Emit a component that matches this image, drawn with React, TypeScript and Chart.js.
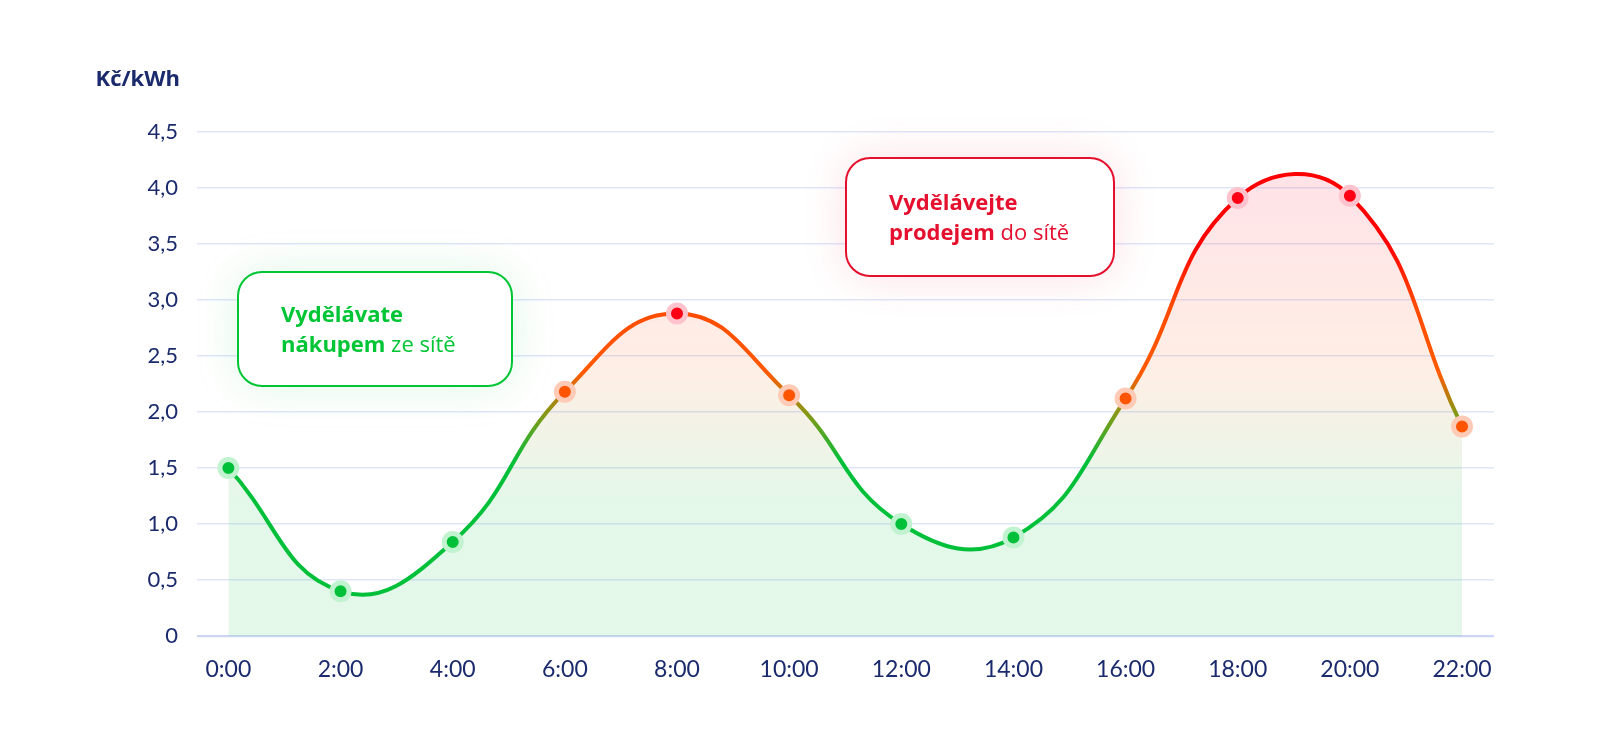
import { useEffect, useRef } from "react";
import { Chart, registerables } from "chart.js";

Chart.register(...registerables);

const hourLabels = [
  "0:00",
  "2:00",
  "4:00",
  "6:00",
  "8:00",
  "10:00",
  "12:00",
  "14:00",
  "16:00",
  "18:00",
  "20:00",
  "22:00",
];
const hours = [0, 2, 4, 6, 8, 10, 12, 14, 16, 18, 20, 22];
const prices = [1.5, 0.4, 0.84, 2.18, 2.88, 2.15, 1.0, 0.88, 2.12, 3.91, 3.93, 1.87];
const yTickValues = [0, 0.5, 1, 1.5, 2, 2.5, 3, 3.5, 4, 4.5];
const yTickLabels = ["0", "0,5", "1,0", "1,5", "2,0", "2,5", "3,0", "3,5", "4,0", "4,5"];

const NAVY = "#1a2a6c";
const GREEN = "#00c535";
const RED = "#e5102e";
const FONT = "Lato, 'Open Sans', sans-serif";
const BOX_FONT = "'Open Sans', Lato, sans-serif";

const lineStops: [number, string][] = [
  [0, "#00c03a"],
  [1.55, "#00c03a"],
  [2.0, "#8a9614"],
  [2.35, "#ff5a00"],
  [2.95, "#ff4a00"],
  [3.5, "#ff0000"],
  [4.5, "#ff0000"],
];
const fillStops: [number, string][] = [
  [0, "rgba(0,192,58,0.11)"],
  [1.2, "rgba(0,192,58,0.11)"],
  [2.4, "rgba(255,90,0,0.1)"],
  [4.0, "rgba(255,0,40,0.11)"],
  [4.5, "rgba(255,0,40,0.11)"],
];

function makeGradient(chart: Chart, stops: [number, string][]) {
  const { ctx, chartArea, scales } = chart;
  if (!chartArea) return undefined;
  const y0 = scales.y.getPixelForValue(0);
  const y1 = scales.y.getPixelForValue(4.5);
  const g = ctx.createLinearGradient(0, y0, 0, y1);
  stops.forEach(([v, c]) => g.addColorStop(v / 4.5, c));
  return g;
}

const pointFill = (v: number) => (v < 1.6 ? "#00c03a" : v < 2.5 ? "#ff5500" : "#ff0015");
const pointHalo = (v: number) => (v < 1.6 ? "#c2f3d0" : v < 2.5 ? "#ffcab6" : "#ffc3cd");

export default function App() {
  const canvasRef = useRef<HTMLCanvasElement>(null);

  useEffect(() => {
    if (!canvasRef.current) return;
    const chart = new Chart(canvasRef.current, {
      type: "line",
      data: {
        datasets: [
          {
            data: hours.map((h, i) => ({ x: h, y: prices[i] })),
            borderColor: (c: any) => makeGradient(c.chart, lineStops),
            backgroundColor: (c: any) => makeGradient(c.chart, fillStops),
            borderWidth: 4,
            fill: "origin",
            tension: 0.45,
            pointRadius: 8.5,
            pointBorderWidth: 5,
            pointBackgroundColor: prices.map(pointFill),
            pointBorderColor: prices.map(pointHalo),
          },
        ],
      },
      options: {
        responsive: true,
        maintainAspectRatio: false,
        animation: false,
        layout: { padding: { left: 0, right: 106, top: 132, bottom: 0 } },
        plugins: { legend: { display: false }, tooltip: { enabled: false } },
        scales: {
          x: {
            type: "linear",
            min: -0.56,
            max: 22.57,
            afterBuildTicks: (s: any) => {
              s.ticks = hours.map((h) => ({ value: h }));
            },
            afterFit: (s: any) => {
              s.height = 114;
            },
            grid: { display: false },
            border: { display: false },
            ticks: {
              color: NAVY,
              padding: 12,
              maxRotation: 0,
              autoSkip: false,
              font: { family: FONT, size: 23 },
              callback: (v: any) => hourLabels[hours.indexOf(Number(v))] ?? "",
            },
          },
          y: {
            min: 0,
            max: 4.5,
            afterBuildTicks: (s: any) => {
              s.ticks = yTickValues.map((v) => ({ value: v }));
            },
            afterFit: (s: any) => {
              s.width = 197;
            },
            border: { display: false },
            grid: {
              drawTicks: false,
              color: (c: any) => (c.tick && c.tick.value === 0 ? "#ccd5f4" : "#dfe6fa"),
              lineWidth: (c: any) => (c.tick && c.tick.value === 0 ? 2.2 : 1.5),
            },
            ticks: {
              color: NAVY,
              padding: 19,
              font: { family: FONT, size: 22 },
              callback: (v: any) => yTickLabels[yTickValues.indexOf(Number(v))] ?? "",
            },
          },
        },
      },
    });
    return () => chart.destroy();
  }, []);

  const boxText = { fontFamily: BOX_FONT, fontSize: 22, lineHeight: "30px" } as const;

  return (
    <div
      style={{
        position: "fixed",
        left: 0,
        top: 0,
        width: 1600,
        height: 750,
        background: "#fff",
        overflow: "hidden",
      }}
    >
      <div style={{ position: "absolute", left: 0, top: 0, width: 1600, height: 750 }}>
        <canvas ref={canvasRef} />
      </div>
      <div
        style={{
          position: "absolute",
          right: 1600 - 180,
          top: 62,
          fontFamily: BOX_FONT,
          fontWeight: 700,
          fontSize: 22,
          lineHeight: "30px",
          color: NAVY,
          whiteSpace: "nowrap",
        }}
      >
        Kč/kWh
      </div>
      <div
        style={{
          position: "absolute",
          left: 237,
          top: 271,
          width: 276,
          height: 116,
          boxSizing: "border-box",
          border: `2px solid ${GREEN}`,
          borderRadius: 25,
          background: "#fff",
          boxShadow: "0 0 45px rgba(0,197,53,0.13)",
          padding: "25px 0 0 42px",
          color: GREEN,
          ...boxText,
        }}
      >
        <b>Vydělávate</b>
        <br />
        <b>nákupem</b> ze sítě
      </div>
      <div
        style={{
          position: "absolute",
          left: 845,
          top: 157,
          width: 270,
          height: 120,
          boxSizing: "border-box",
          border: `2px solid ${RED}`,
          borderRadius: 25,
          background: "#fff",
          boxShadow: "0 0 45px rgba(229,16,46,0.13)",
          padding: "27px 0 0 42px",
          color: RED,
          ...boxText,
        }}
      >
        <b>Vydělávejte</b>
        <br />
        <b>prodejem</b> do sítě
      </div>
    </div>
  );
}
